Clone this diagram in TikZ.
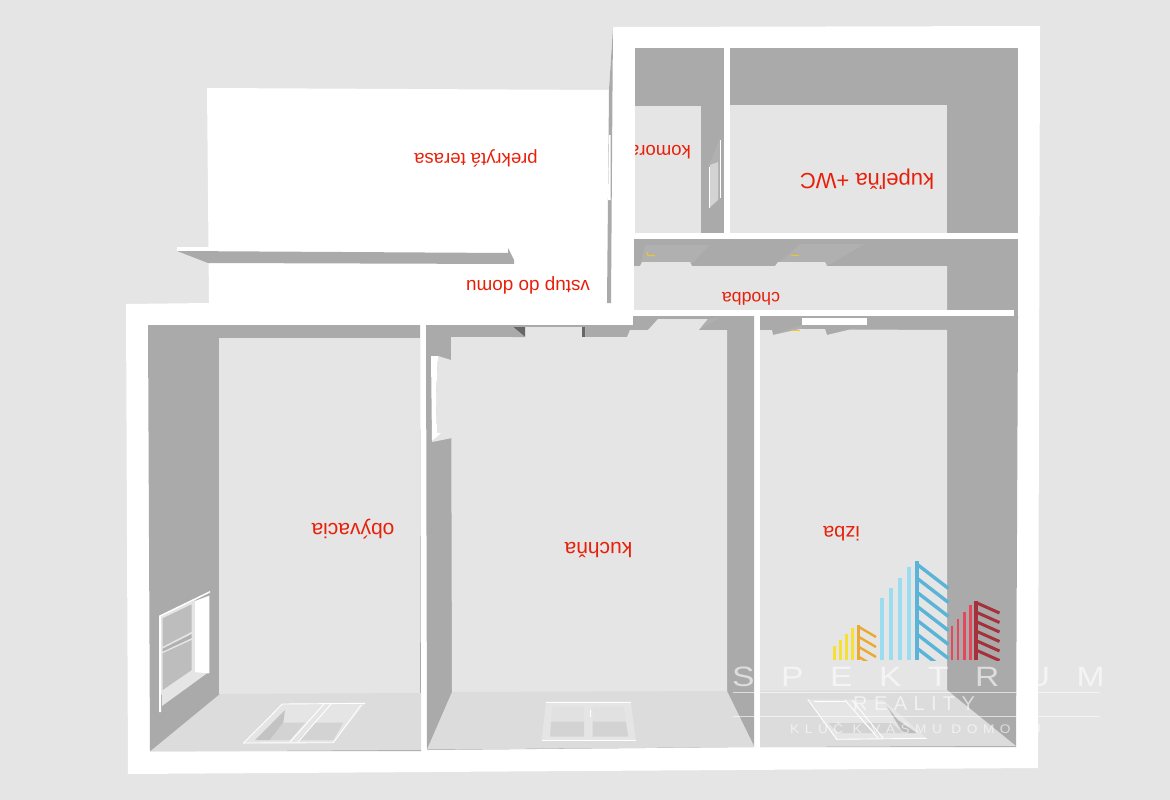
\documentclass[tikz,border=0pt]{standalone}
\usepackage{fontspec}
\setmainfont{Liberation Sans}
\definecolor{plan}{HTML}{E5E5E5}
\definecolor{wallgray}{HTML}{AAAAAA}
\definecolor{reveal}{HTML}{B0B0B0}
\definecolor{nearfloor}{HTML}{DCDCDC}
\definecolor{sash}{HTML}{D3D3D3}
\definecolor{panegray}{HTML}{BDBDBD}
\definecolor{labelred}{HTML}{E8200A}
\definecolor{lampmark}{HTML}{F2C81E}
\definecolor{logoyellow}{HTML}{F5E033}
\definecolor{logoorange}{HTML}{EBA92F}
\definecolor{logosky}{HTML}{9ADCF0}
\definecolor{logoblue}{HTML}{5AB4D8}
\definecolor{logored}{HTML}{E8465A}
\definecolor{logowine}{HTML}{A5323A}
\tikzset{
  wall/.style={fill=wallgray},
  revealface/.style={fill=reveal},
  floorpart/.style={fill=plan},
  lowfloor/.style={fill=nearfloor},
  whitepart/.style={fill=white},
  frameline/.style={draw=white,line width=0.9pt},
  lampline/.style={draw=lampmark,line width=1pt},
  roomlabel/.style={rotate=180,text=labelred,inner sep=0pt,font=\fontsize{#1}{#1}\selectfont},
  logoword/.style={text=white,text opacity=0.6,inner sep=0pt,anchor=west},
  logorule/.style={draw=white,draw opacity=0.6,line width=0.8pt}
}

\begin{document}
\begin{tikzpicture}[x=1pt,y=-1pt]
  \useasboundingbox (0,0) rectangle (1170,800);
  \fill[plan] (0,0) rectangle (1170,800);
  \fill[whitepart] (613,27) -- (1040,26) -- (1038,768) -- (128,774) -- (126,304) -- (209,303) -- (207,88) -- (609,90) -- cycle;

  \fill[wall] (613,27) -- (612.5,90) -- (611,303) -- (607,303) -- (609,90) -- cycle;
  \fill[whitepart] (609,135) -- (610.5,135) -- (610.5,200) -- (608,200) -- cycle;
  \fill[whitepart] (177,247) -- (209,247) -- (209,252) -- (177,251) -- cycle;
  \fill[wall] (177,251) -- (508,253) -- (508,248) -- (514,260) -- (514,264) -- (208,263) -- cycle;

  \fill[wall] (635,48) rectangle (724,233);
  \fill[floorpart] (635,106) rectangle (701,233);
  \fill[wall] (730,48) rectangle (1018,233);
  \fill[floorpart] (730,105) rectangle (947,233);

  \fill[revealface] (709,165) -- (720,138) -- (720,198) -- (709,210) -- cycle;
  \fill[fill=sash] (710,165) -- (718,162) -- (718,200) -- (710,207) -- cycle;
  \draw[frameline] (720.7,140) -- (720.7,198);
  \draw[frameline] (709.3,167) -- (709.3,208);

  \fill[wall] (634,239) rectangle (1018,316);
  \fill[revealface] (645,245) -- (709,245) -- (693,263) -- (641,263) -- cycle;
  \fill[revealface] (800,244) -- (865,244) -- (827,266) -- (778,263) -- (790,253) -- cycle;
  \fill[floorpart] (634,266) -- (640,266) -- (642,262) -- (690,262) -- (692,266) -- (775,266) -- (778,262) -- (825,262) -- (827,266) -- (947,266) -- (947,310) -- (634,310) -- cycle;
  \draw[lampline] (647,252) -- (648,255.5) -- (655,255.5);
  \draw[lampline] (791,255) -- (799,255);
  \fill[whitepart] (633,310) rectangle (1014,316);

  \fill[wall] (148,325) -- (420,325) -- (421,751) -- (150,751) -- cycle;
  \fill[floorpart] (219,338) rectangle (420,694);
  \fill[lowfloor] (220,694) -- (421,693) -- (421,750) -- (150,751.5) -- cycle;

  \fill[whitepart] (159,615.7) -- (210,591) -- (210,592.5) -- (161,617) -- (161,712) -- (159,712) -- cycle;
  \fill[fill=sash!60!white] (161,616.5) -- (195,600) -- (195,673) -- (161,695) -- cycle;
  \fill[whitepart] (195,601) -- (209.3,595.7) -- (209.3,673.3) -- (195,673.3) -- cycle;
  \fill[fill=panegray] (162.7,618.3) -- (191.7,604.3) -- (191.7,631.7) -- (162.7,646.7) -- cycle;
  \fill[fill=panegray] (162.7,653.3) -- (191.7,640) -- (191.7,670) -- (162.7,690) -- cycle;
  \fill[revealface] (162.7,648.7) -- (191.7,634) -- (191.7,638) -- (162.7,651.5) -- cycle;
  \fill[fill=plan] (162,692) -- (193,672) -- (207,673.3) -- (162,706) -- cycle;

  \fill[fill=plan] (243.3,743.3) -- (282.3,704) -- (365,703.3) -- (333.3,742.7) -- cycle;
  \fill[fill=wallgray!70!white] (255,740) -- (285,710) -- (283.3,722.7) -- (270,740) -- cycle;
  \fill[fill=sash] (270,740) -- (283.3,722.7) -- (305,722.7) -- (290,740) -- cycle;
  \fill[fill=sash] (298.3,740) -- (315,722.7) -- (343.3,722.7) -- (333.3,740) -- cycle;
  \draw[frameline] (243.3,743.3) -- (282.3,704) -- (365,703.3);
  \draw[frameline] (243.3,743) -- (333.3,742.7) -- (361,705);
  \draw[frameline] (290,742) -- (324,704);
  \draw[frameline] (298,742) -- (331,704);

  \fill[wall] (426,325) -- (633,325) -- (633,316) -- (754,316) -- (754,747) -- (427,750) -- cycle;
  \fill[floorpart] (451,337) -- (513,337) -- (513,327) -- (585,327) -- (585,337) -- (627,337) -- (630,330) -- (648,330) -- (658,319) -- (708,319) -- (699,330) -- (727,330) -- (727,692) -- (452,692) -- cycle;
  \fill[revealface] (699,330) -- (720,318) -- (708,319) -- cycle;
  \fill[fill=black!60] (513,327) -- (525,327) -- (525,337) -- cycle;
  \fill[fill=black!60] (582,327) rectangle (585,337);
  \fill[wall] (513,337) -- (513,327) -- (525,337) -- cycle;
  \fill[floorpart] (451,360) -- (438,356) -- (436,397) -- (437,433) -- (432,442) -- (452,438) -- cycle;
  \fill[whitepart] (431,356) -- (438,356) -- (436,397) -- (437,433) -- (441,433) -- (432,441) -- cycle;
  \fill[lowfloor] (452,692) -- (727,691) -- (754,746) -- (754,747) -- (427,749.5) -- cycle;

  \fill[fill=plan] (546,701.7) -- (630.7,701.7) -- (636,740.7) -- (541.7,740.7) -- cycle;
  \fill[fill=nearfloor!40!plan] (552.7,706.7) -- (584,706.7) -- (584,721.7) -- (551,721.7) -- cycle;
  \fill[fill=sash] (551,721.7) -- (584,721.7) -- (584,736.7) -- (550,736.7) -- cycle;
  \fill[fill=nearfloor!40!plan] (592.7,706.7) -- (624,706.7) -- (626,721.7) -- (592.7,721.7) -- cycle;
  \fill[fill=sash] (592.7,721.7) -- (626,721.7) -- (628.3,736.7) -- (592.7,736.7) -- cycle;
  \draw[frameline] (546,702) -- (630.7,702);
  \draw[frameline] (541.7,740.7) -- (636,740.7);
  \draw[frameline] (590,710) -- (590,717);

  \fill[wall] (760,316) -- (1018,316) -- (1016,747) -- (760,747) -- cycle;
  \fill[revealface] (773,335) -- (802,325) -- (802,329) -- cycle;
  \fill[revealface] (827,335) -- (867,325) -- (850,330) -- cycle;
  \fill[floorpart] (760,330) -- (772,330) -- (773,335) -- (800,329) -- (825,329) -- (827,335) -- (850,329.5) -- (947,330) -- (947,691) -- (760,691) -- cycle;
  \fill[whitepart] (802,318) rectangle (867,325);
  \draw[lampline] (792,330) -- (800,330);
  \fill[lowfloor] (760,691) -- (947,690) -- (1016,746) -- (760,747) -- cycle;

  \fill[fill=plan] (807.7,699.3) -- (883.3,700) -- (926.7,738.3) -- (836.7,739.3) -- cycle;
  \fill[fill=sash] (828,723) -- (863,723) -- (873,733) -- (838,733) -- cycle;
  \fill[fill=sash] (866,723) -- (892,723) -- (903,733) -- (876,733) -- cycle;
  \fill[fill=wallgray!80!white] (886.7,706) -- (898,720) -- (916.7,733) -- (903,733) -- cycle;
  \draw[frameline] (807.7,699.3) -- (836.7,739.3) -- (926.7,738.3);
  \draw[frameline] (814,701) -- (845,701);
  \draw[frameline] (845,700) -- (878,738);
  \draw[frameline] (852,700) -- (883,738);

  \node[roomlabel=18.5] (terasa) at (476,158) {prekrytá terasa};
  \node[roomlabel=18.9] (vstup) at (528,285) {vstup do domu};
  \node[roomlabel=18.5,anchor=west] (komora) at (691,152) {komora};
  \node[roomlabel=22] (kupelna) at (867,179) {kupeľňa +WC};
  \node[roomlabel=17.7] (chodba) at (751,299) {chodba};
  \node[roomlabel=21] (obyvacia) at (353,529) {obývacia};
  \node[roomlabel=21] (kuchna) at (598.5,550) {kuchňa};
  \node[roomlabel=20] (izba) at (841.5,534) {izba};

  \fill[whitepart] (613.5,28) rectangle (634.7,233);
  \fill[whitepart] (634,234) rectangle (1018,239);
  \fill[whitepart] (724,48) rectangle (729.7,234);

  \begin{scope}
    \clip (825,550) rectangle (1010,660);
    \foreach \x/\t in {834.5/646,840.5/640,846.5/634,852.5/628}
      \draw[logoyellow,line width=2.5pt] (\x,660) -- (\x,\t);
    \draw[logoorange,line width=3.3pt] (858.3,660) -- (858.3,625);
    \foreach \y in {627,637,647,657}
      \draw[logoorange,line width=2.4pt] (859,\y) -- (876,\y+10);
    \foreach \x/\t in {882/598,891/588,899.7/578,908.7/567}
      \draw[logosky,line width=4pt] (\x,660) -- (\x,\t);
    \draw[logoblue,line width=4pt] (917,660) -- (917,561);
    \foreach \y in {565,579,593,607,621,635,649}
      \draw[logoblue,line width=3.4pt] (918,\y) -- (948.5,\y+23.5);
    \foreach \x/\t in {952/626,958/619,964.3/612,970.3/605}
      \draw[logored,line width=2.5pt] (\x,660) -- (\x,\t);
    \draw[logowine,line width=4pt] (976.3,660) -- (976.3,601);
    \foreach \y in {603,612.5,622,631.5,641,650.5}
      \draw[logowine,line width=3pt] (977,\y) -- (999.5,\y+10);
  \end{scope}

  \node[logoword,xscale=1.2,font={\fontsize{28}{28}\selectfont\addfontfeature{LetterSpace=79}}] (spektrum) at (732,677) {SPEKTRUM};
  \draw[logorule] (733,692) -- (1100,692);
  \node[logoword,font={\fontsize{20}{20}\selectfont\addfontfeature{LetterSpace=32}}] (reality) at (853,704) {REALITY};
  \draw[logorule] (733,716) -- (1100,716);
  \node[logoword,xscale=1.1,font={\fontsize{12.5}{12.5}\selectfont\addfontfeature{LetterSpace=40}}] (kluc) at (790,728) {KLÚČ K VÁŠMU DOMOVU};
\end{tikzpicture}
\end{document}
